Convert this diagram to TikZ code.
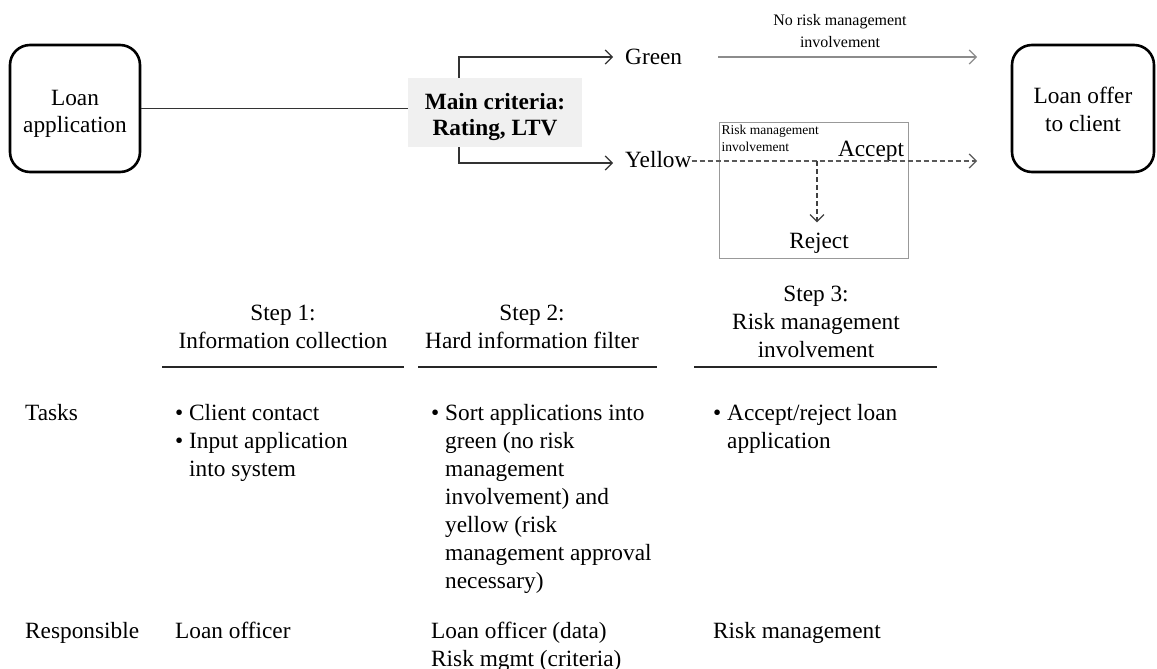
\documentclass[tikz,border=0pt]{standalone}
\usepackage{fontspec}
\setmainfont{Liberation Serif}
\usetikzlibrary{arrows.meta}
\newcommand\toph[1]{\rule{0pt}{#1pt}}
\newcommand\botd{\rule[-8.4pt]{0pt}{0pt}}
\begin{document}
\begin{tikzpicture}[x=1pt,y=-1pt,
 base/.style={font=\fontsize{23.3}{28}\selectfont, inner sep=0pt},
 small/.style={font=\fontsize{16}{22}\selectfont, inner sep=0pt, align=center},
 tiny/.style={font=\fontsize{13.5}{17}\selectfont, inner sep=0pt, align=left},
 txt/.style={base, align=left, anchor=north west},
 ctxt/.style={base, align=center, anchor=north},
 rbox/.style={base, draw=black, line width=2.6pt, rounded corners=20pt, align=center},
 tip/.style={-{Straight Barb[length=7pt,width=14pt,line width=1.2pt]}},
 conn/.style={line width=1.3pt, draw=black!80},
 uline/.style={line width=1.4pt, draw=black!85},
 dashline/.style={dash pattern=on 5pt off 3pt},
]
\useasboundingbox (0,0) rectangle (1157,669);

% top flow
\node[rbox, minimum width=130pt, minimum height=127pt, font=\fontsize{23.3}{27}\selectfont] (app) at (75,108.5) {\toph{28.4}Loan\\application\botd};
\node[rbox, minimum width=142pt, minimum height=127pt, font=\fontsize{23.3}{27.5}\selectfont] (offer) at (1083,108.5) {\toph{25.9}Loan offer\\to client\botd};
\node[base, fill=black!6, minimum width=174pt, minimum height=69pt, align=center,
      font=\fontsize{23.3}{26}\selectfont\bfseries] (crit) at (495,112.5) {\toph{28.4}Main criteria:\\Rating, LTV\botd};

\draw[conn] (app.east) -- (app.east -| crit.west);

\node[base, anchor=west] (green) at (625,57) {Green};
\node[base, anchor=west] (yellow) at (625,160) {Yellow};
\coordinate (bx) at (459,0);
\draw[conn, tip] (crit.north -| bx) |- ([xshift=-12pt]green.west);
\draw[conn, tip] (crit.south -| bx) |- ([xshift=-12pt]yellow.west |- 0,163);

\coordinate (gend) at (977,57);
\draw[tip, line width=1.3pt, draw=black!45] ([xshift=36pt]green.east |- gend) -- (gend);
\node[small] (nolab) at (840,31) {No risk management\\involvement};

\node[draw=black!40, line width=1pt, minimum width=189pt, minimum height=136pt, inner sep=0pt] (rm) at (813.5,190) {};
\node[tiny, anchor=north west] (rmlab) at ([shift={(3,3)}]rm.north west) {Risk management\\involvement};
\node[base, anchor=base] (acc) at (871,156) {Accept};
\node[base, anchor=base] (rej) at (819,248) {Reject};

\coordinate (yend) at (977,161);
\draw[tip, dashline, line width=1.1pt, draw=black!65] (yellow.east |- yend) -- (yend);
\coordinate (split) at (817,161);
\draw[tip, dashline, line width=1.1pt, draw=black!75] (split) -- ([yshift=10pt]rej.north -| split);

% table headers
\node[ctxt] (s1) at (283,300.4) {\strut Step 1:\\Information collection};
\node[ctxt] (s2) at (532,300.4) {\strut Step 2:\\Hard information filter};
\node[ctxt] (s3) at (816,281.4) {\strut Step 3:\\Risk management\\involvement};
\draw[uline] (162,367) -- (404,367);
\draw[uline] (418,367) -- (657,367);
\draw[uline] (694,367) -- (937,367);

% tasks row
\node[txt] (tasks) at (25,400.4) {\strut Tasks};
\node[txt] (t1) at (175,400.4) {\strut\textbullet\ Client contact\\\textbullet\ Input application\\\hphantom{\textbullet\ }into system};
\node[txt] (t2) at (431,400.4) {\strut\textbullet\ Sort applications into\\\hphantom{\textbullet\ }green (no risk\\\hphantom{\textbullet\ }management\\\hphantom{\textbullet\ }involvement) and\\\hphantom{\textbullet\ }yellow (risk\\\hphantom{\textbullet\ }management approval\\\hphantom{\textbullet\ }necessary)};
\node[txt] (t3) at (713,400.4) {\strut\textbullet\ Accept/reject loan\\\hphantom{\textbullet\ }application};

% responsible row
\node[txt] (resp) at (25,618.4) {\strut Responsible};
\node[txt] (r1) at (175,618.4) {\strut Loan officer};
\node[txt] (r2) at (431,618.4) {\strut Loan officer (data)\\Risk mgmt (criteria)};
\node[txt] (r3) at (713,618.4) {\strut Risk management};
\end{tikzpicture}
\end{document}
